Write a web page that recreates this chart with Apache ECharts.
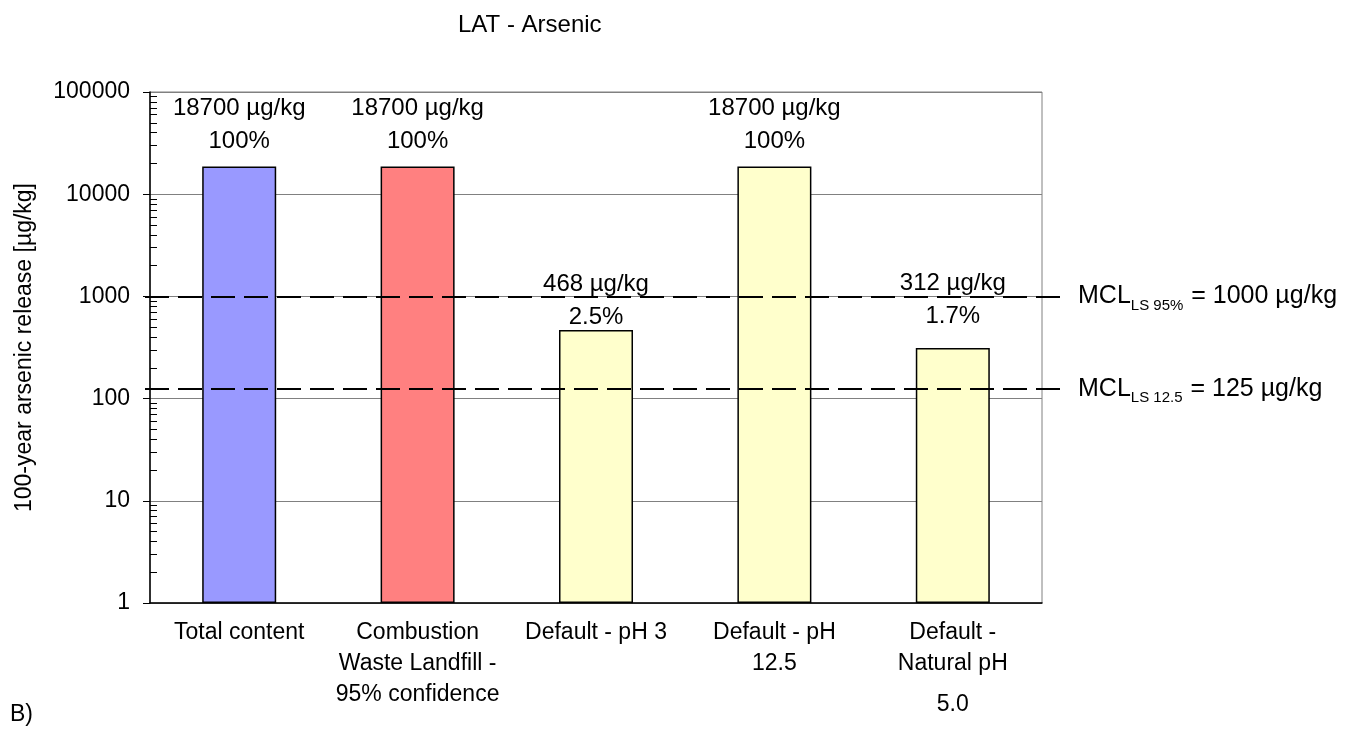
<!DOCTYPE html>
<html>
<head>
<meta charset="utf-8">
<script src="https://cdn.jsdelivr.net/npm/echarts@6/dist/echarts.min.js"></script>
<style>
  html, body { margin: 0; padding: 0; background: #fff; }
  #chart { width: 1364px; height: 731px; }
</style>
</head>
<body>
<div id="chart"></div>
<script>
var categories = ['Total content', 'Combustion\nWaste Landfill -\n95% confidence', 'Default - pH 3', 'Default - pH\n12.5', 'Default -\nNatural pH\n5.0'];
var releases = [18700, 18700, 468, 18700, 312];
var shares = ['100%', '100%', '2.5%', '100%', '1.7%'];
var barColors = ['#9999FF', '#FF8080', '#FFFFCC', '#FFFFCC', '#FFFFCC'];
var minorTicks = [];
for (var d = 1; d < 100000; d *= 10) {
	for (var m = 2; m <= 9; m++) minorTicks.push(m * d);
}
var limitValues = [1000, 125];
var limitLabels = ['{m|MCL}{s|LS 95%}{m| = 1000 µg/kg}', '{m|MCL}{s|LS 12.5}{m| = 125 µg/kg}'];

var FONT = '"Liberation Sans", Arial, sans-serif';
var labelGaps = [9, 9, -4, 9, 15];

var myChart = echarts.init(document.getElementById('chart'));

var barData = releases.map(function(v, i) {
	return {
		value: v,
		itemStyle: { color: barColors[i] },
		label: { distance: labelGaps[i] }
	};
});

var option = {
	backgroundColor: '#fff',
	animation: false,
	textStyle: { fontFamily: FONT },
	title: {
		text: 'LAT - Arsenic',
		left: 453,
		top: 8,
		textStyle: { fontFamily: FONT, fontSize: 24, fontWeight: 'normal', color: '#000' }
	},
	graphic: [{
		type: 'text',
		left: 10,
		top: 703,
		style: { text: 'B)', font: '23px ' + FONT, fill: '#000' }
	}],
	grid: [{
		left: 150, right: 322, top: 92, bottom: 128,
		show: true, borderColor: '#808080', borderWidth: 1
	}, {
		left: 145, right: 299, top: 92, bottom: 128
	}],
	xAxis: [{
		type: 'category',
		gridIndex: 0,
		data: categories,
		axisLine: { lineStyle: { color: '#000', width: 1.5 } },
		axisTick: { length: 7, lineStyle: { color: '#000' } },
		axisLabel: {
			interval: 0, color: '#000', fontSize: 23, lineHeight: 31, margin: 14, fontFamily: FONT,
			formatter: function(v) {
				var lines = v.split('\n');
				if (lines.length === 3 && lines[2] === '5.0') {
					return lines[0] + '\n' + lines[1] + '\n{low|' + lines[2] + '}';
				}
				return v;
			},
			rich: { low: { fontSize: 23, fontFamily: FONT, color: '#000', padding: [20, 0, 0, 0] } }
		}
	}, {
		type: 'value',
		gridIndex: 1,
		min: 0, max: 1,
		show: false
	}],
	yAxis: [{
		type: 'log',
		gridIndex: 0,
		min: 1, max: 100000,
		logBase: 10,
		name: '100-year arsenic release [µg/kg]',
		nameLocation: 'middle',
		nameGap: 114,
		nameTextStyle: { color: '#000', fontSize: 23, fontFamily: FONT },
		axisLine: { show: true, lineStyle: { color: '#000', width: 1.5 } },
		axisTick: { show: true, length: 7, lineStyle: { color: '#000' } },
		axisLabel: {
			color: '#000', fontSize: 23, margin: 20, fontFamily: FONT,
			formatter: function(v) { return String(Math.round(v)); }
		},
		splitLine: { show: true, lineStyle: { color: '#808080', width: 1 } }
	}, {
		type: 'log',
		gridIndex: 0,
		min: 1, max: 100000,
		position: 'left',
		axisLine: { show: false },
		axisLabel: { show: false },
		splitLine: { show: false },
		axisTick: { show: true, inside: true, length: 7, customValues: minorTicks, lineStyle: { color: '#000' } }
	}, {
		type: 'log',
		gridIndex: 1,
		min: 1, max: 100000,
		show: false
	}],
	series: [{
		type: 'bar',
		xAxisIndex: 0,
		yAxisIndex: 0,
		barWidth: 74,
		data: barData,
		itemStyle: { borderColor: '#000', borderWidth: 1.5 },
		label: {
			show: true,
			position: 'top',
			color: '#000',
			fontSize: 24,
			lineHeight: 33,
			fontFamily: FONT,
			formatter: function(p) {
				return p.value + ' µg/kg\n' + shares[p.dataIndex];
			}
		}
	}, {
		type: 'line',
		xAxisIndex: 1,
		yAxisIndex: 2,
		data: [],
		markLine: {
			silent: true,
			symbol: 'none',
			lineStyle: { color: '#000', type: [24, 9], width: 2 },
			label: {
				position: 'end',
				distance: 13,
				color: '#000',
				formatter: function(p) {
					return limitLabels[p.dataIndex];
				},
				rich: {
					m: { fontSize: 25, fontFamily: FONT, color: '#000' },
					s: { fontSize: 15, fontFamily: FONT, color: '#000', padding: [18, 1, 0, 0] }
				}
			},
			data: limitValues.map(function(v) { return { yAxis: v }; })
		}
	}]
};
myChart.setOption(option);
</script>
</body>
</html>
